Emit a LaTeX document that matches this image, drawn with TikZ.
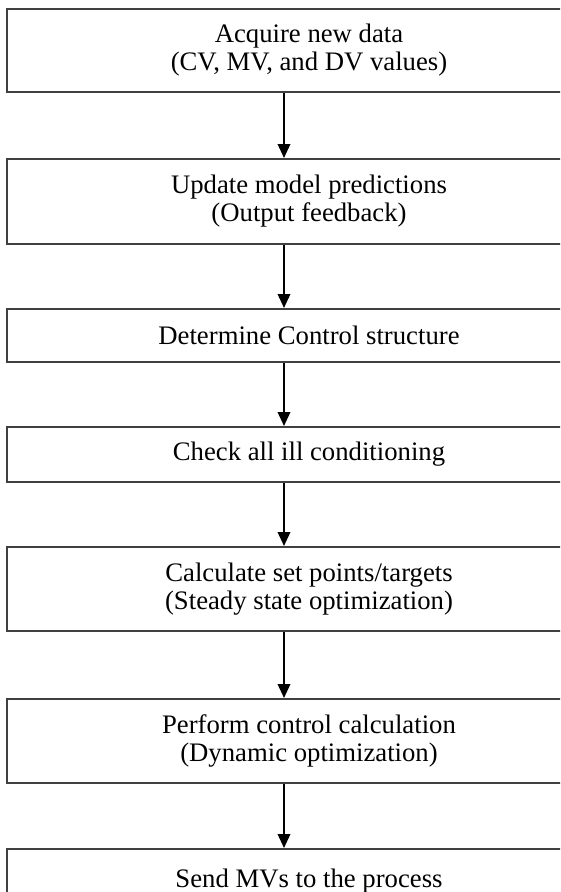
\documentclass[tikz,border=0pt]{standalone}
\usepackage{fontspec}
\setmainfont{Liberation Serif}
\usetikzlibrary{arrows.meta}

\begin{document}
\begin{tikzpicture}[
    stepbox/.style={draw=black!75, line width=0.04cm, minimum width=12.06cm, inner sep=0pt,
        align=center, font=\fontsize{15.2}{16}\selectfont},
    flow/.style={-{Triangle[length=0.28cm, width=0.25cm]}, line width=0.04cm}
]
                    \useasboundingbox (0,0) rectangle (11.2,-17.84);
                    \clip (0,0) rectangle (11.2,-17.84);
                    % Nodes
                    \coordinate (spine) at (5.68,0);
                    \node[stepbox, minimum height=1.66cm] (acquire) at (6.18,-1.01) {Acquire new data\\(CV, MV, and DV values)};
                    \node[stepbox, minimum height=1.70cm] (update) at (6.18,-4.03) {Update model predictions\\(Output feedback)};
                    \node[stepbox, minimum height=1.06cm] (determine) at (6.18,-6.71) {Determine Control structure};
                    \node[stepbox, minimum height=1.10cm] (check) at (6.18,-9.09) {Check all ill conditioning};
                    \node[stepbox, minimum height=1.68cm] (calculate) at (6.18,-11.78) {Calculate set points/targets\\(Steady state optimization)};
                    \node[stepbox, minimum height=1.68cm] (perform) at (6.18,-14.82) {Perform control calculation\\(Dynamic optimization)};
                    \node[stepbox, minimum height=1.28cm] (send) at (6.18,-17.62) {Send MVs to the process};
                    % Edges
                    \draw[flow] (acquire.south -| spine) -- (update.north -| spine);
                    \draw[flow] (update.south -| spine) -- (determine.north -| spine);
                    \draw[flow] (determine.south -| spine) -- (check.north -| spine);
                    \draw[flow] (check.south -| spine) -- (calculate.north -| spine);
                    \draw[flow] (calculate.south -| spine) -- (perform.north -| spine);
                    \draw[flow] (perform.south -| spine) -- (send.north -| spine);
                \end{tikzpicture}
\end{document}
